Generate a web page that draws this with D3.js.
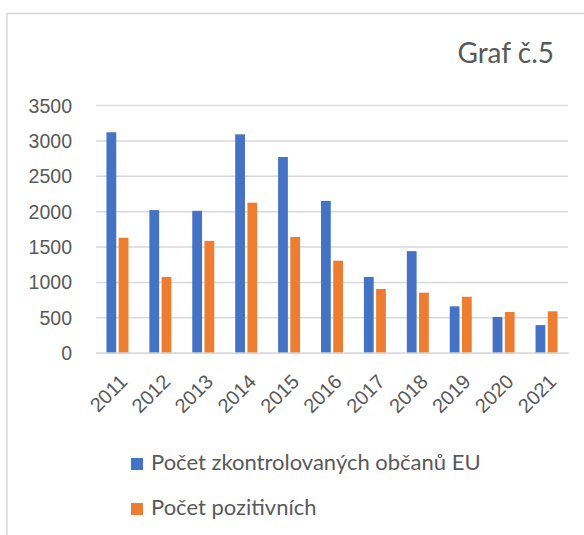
<!DOCTYPE html>
<html><head><meta charset="utf-8">
<script src="https://cdn.jsdelivr.net/npm/d3@7"></script>
<style>
html,body{margin:0;padding:0;background:#fff;}
svg{display:block;font-family:Lato,"Open Sans",sans-serif;}
</style></head>
<body><svg id="c" width="584" height="535"></svg>
<script>
const years = ["2011","2012","2013","2014","2015","2016","2017","2018","2019","2020","2021"];
const seriesNames = ["Počet zkontrolovaných občanů EU","Počet pozitivních"];
const checkedEU = [3115,2015,2005,3085,2765,2145,1070,1435,655,505,390];
const positive = [1625,1070,1580,2120,1635,1300,900,848,790,575,585];
const yTicks = [0,500,1000,1500,2000,2500,3000,3500];
const colors = ["#4472C4","#ED7D31"];
const title = "Graf č.5";

const svg = d3.select("#c");
const textColor = "#595959";
const gridColor = "#d9d9d9";

// frame
svg.append("rect").attr("x",7).attr("y",13.5).attr("width",700).attr("height",700)
  .attr("fill","none").attr("stroke",gridColor).attr("stroke-width",1.5);

const x = d3.scaleBand().domain(years).range([96,568]).paddingInner(0).paddingOuter(0);
const xs = d3.scaleBand().domain(seriesNames).range([-11,11]).paddingInner(0.2);
const y = d3.scaleLinear().domain([0,3500]).range([352.7,105]);

// gridlines
const yAxis = d3.axisLeft(y).tickValues(yTicks).tickSize(-(568-96)).tickFormat(d=>d).tickPadding(24);
const gy = svg.append("g").attr("transform","translate(96,0)").call(yAxis);
gy.select(".domain").remove();
gy.selectAll(".tick line").attr("stroke",gridColor).attr("stroke-width",1.5);
gy.selectAll(".tick text").attr("fill",textColor).attr("font-size","19.5px").attr("dy","0.36em");

// bars
const data = [checkedEU, positive];
seriesNames.forEach((s,si)=>{
  svg.append("g").selectAll("rect").data(years).join("rect")
    .attr("x",d=>x(d)+x.bandwidth()/2+xs(s))
    .attr("width",xs.bandwidth())
    .attr("y",(d,i)=>y(data[si][i]))
    .attr("height",(d,i)=>y(0)-y(data[si][i]))
    .attr("fill",colors[si]);
});

// x axis
const xAxis = d3.axisBottom(x).tickSize(0).tickPadding(0);
const gx = svg.append("g").attr("transform",`translate(0,${y(0)})`).call(xAxis);
gx.select(".domain").attr("stroke",gridColor).attr("stroke-width",1.5);
gx.selectAll(".tick text").attr("fill",textColor).attr("font-size","20px")
  .attr("text-anchor","end").attr("dy",null)
  .attr("transform","translate(1,20) rotate(-45)")
  .attr("dominant-baseline","hanging");

// title
svg.append("text").attr("x",554).attr("y",63).attr("text-anchor","end")
  .attr("fill",textColor).attr("font-size","28px").text(title);

// legend
const lg = svg.append("g");
seriesNames.forEach((s,i)=>{
  const yy = 470 + i*45;
  lg.append("rect").attr("x",131).attr("y",yy-12).attr("width",12).attr("height",12).attr("fill",colors[i]);
  lg.append("text").attr("x",151).attr("y",yy).attr("fill",textColor).attr("font-size","22px").text(s);
});
</script></body></html>
